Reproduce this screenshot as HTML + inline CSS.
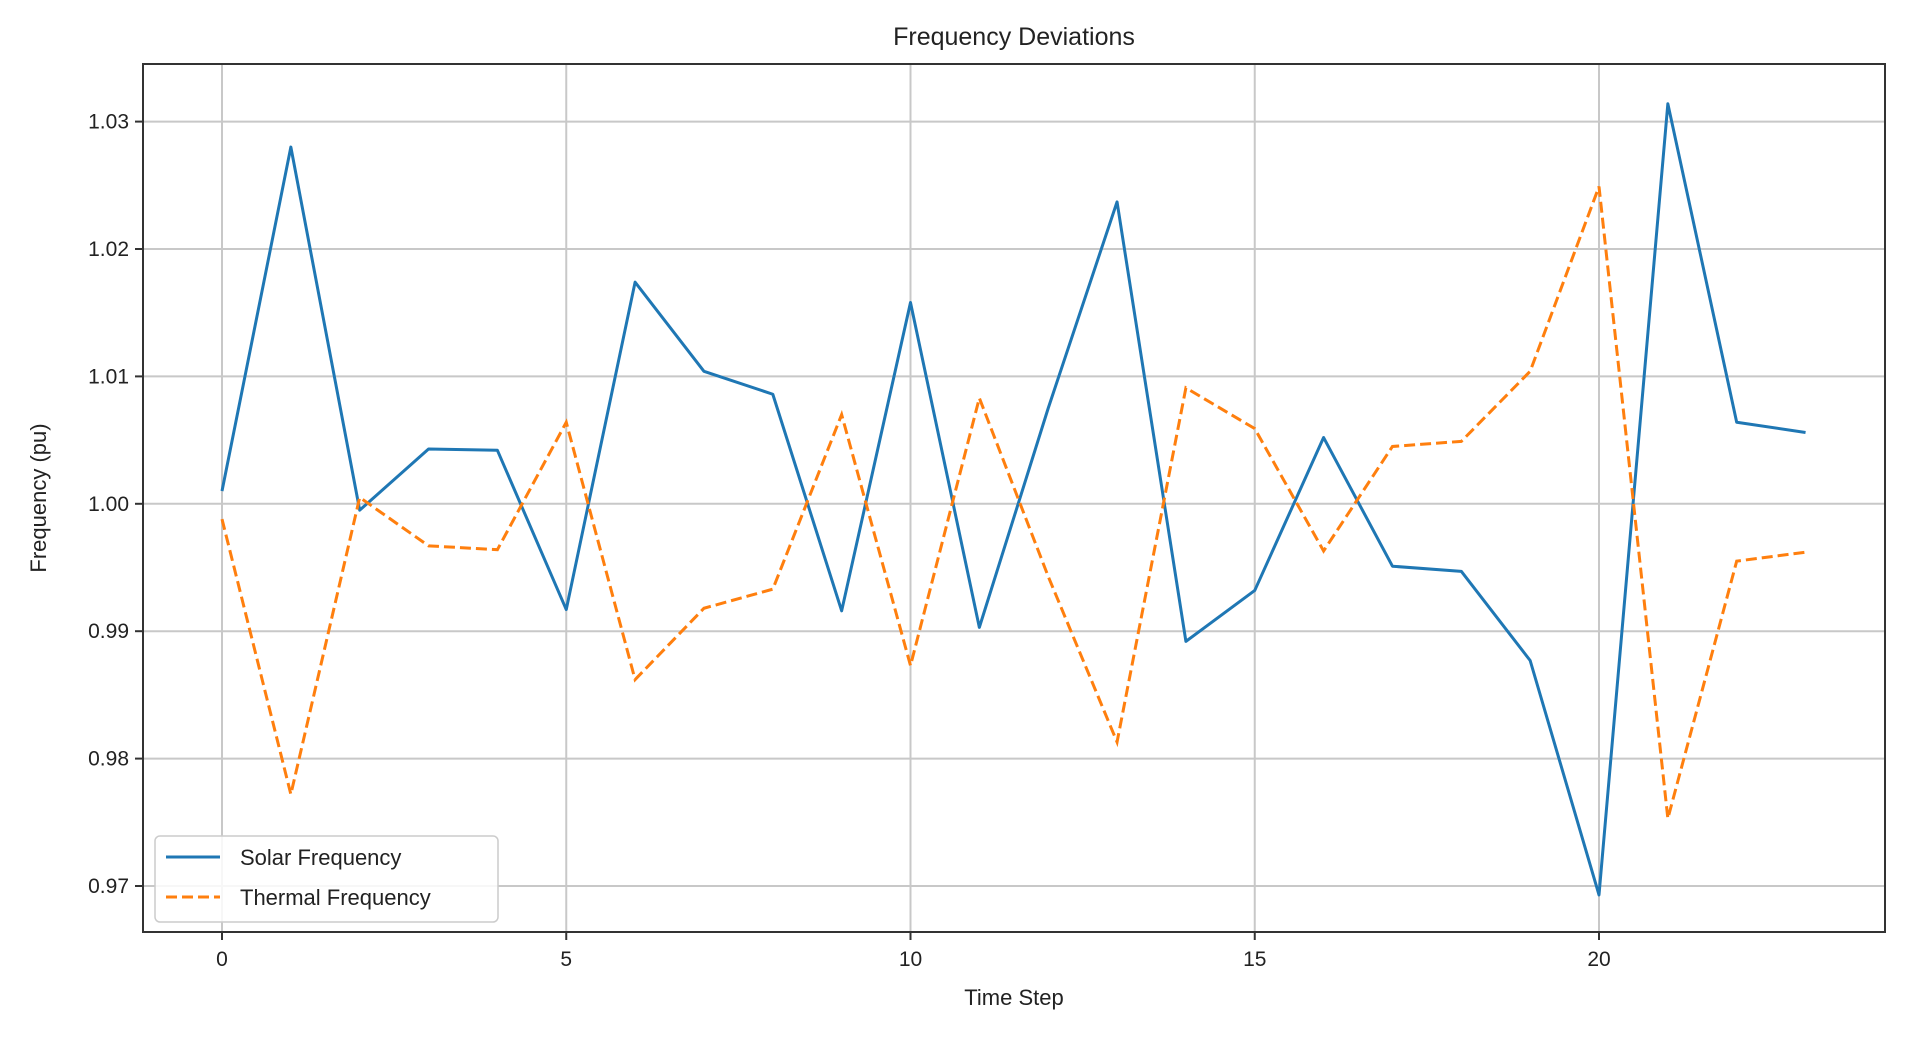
<!DOCTYPE html>
<html><head><meta charset="utf-8"><style>
html,body{margin:0;padding:0;background:#fff;}
svg{display:block;font-family:"Liberation Sans","DejaVu Sans",sans-serif;}
</style></head><body>
<svg id="chart" width="1917" height="1051"></svg>
<script>
const steps=[0,1,2,3,4,5,6,7,8,9,10,11,12,13,14,15,16,17,18,19,20,21,22,23];
const solar=[1.001,1.028,0.9995,1.0043,1.0042,0.9917,1.0174,1.0104,1.0086,0.9916,1.0158,0.9903,1.0075,1.0237,0.9892,0.9932,1.0052,0.9951,0.9947,0.9877,0.9693,1.0314,1.0064,1.0056];
const thermal=[0.9988,0.9772,1.0005,0.9967,0.9964,1.0064,0.9862,0.9918,0.9933,1.007,0.9873,1.0083,0.9943,0.9813,1.0091,1.0059,0.9963,1.0045,1.0049,1.0104,1.0249,0.9753,0.9955,0.9962];
const xTicks=[0,5,10,15,20];
const yTicks=[0.97,0.98,0.99,1.00,1.01,1.02,1.03];
const yTickLabels=["0.97","0.98","0.99","1.00","1.01","1.02","1.03"];

const NS="http://www.w3.org/2000/svg";
const svg=document.getElementById('chart');
const L=143,R=1885,T=64,B=932;
const x=v=>222+v*68.85;
const y=v=>886-(v-0.97)*12740;
function mk(tag,attrs,parent){const e=document.createElementNS(NS,tag);for(const k in attrs)e.setAttribute(k,attrs[k]);(parent||svg).appendChild(e);return e;}

xTicks.forEach(t=>{
  const g=mk('line',{x1:x(t),x2:x(t),y1:T,y2:B,stroke:'#c8c8c8','stroke-width':2});
  
  
  const tk=mk('line',{x1:x(t),x2:x(t),y1:B,y2:B+8,stroke:'#333','stroke-width':2});
  
  
  const lb=mk('text',{x:x(t),y:B+34,'text-anchor':'middle','font-size':21,fill:'#222'});
  lb.textContent=t;
  
  
});
yTicks.forEach((t,i)=>{
  const g=mk('line',{x1:L,x2:R,y1:y(t),y2:y(t),stroke:'#c8c8c8','stroke-width':2});
  
  
  const tk=mk('line',{x1:L-8,x2:L,y1:y(t),y2:y(t),stroke:'#333','stroke-width':2});
  
  
  const lb=mk('text',{x:L-14,y:y(t)+7,'text-anchor':'end','font-size':21,fill:'#222'});
  lb.textContent=yTickLabels[i];
  
  
});
const frame=mk('rect',{x:L,y:T,width:R-L,height:B-T,fill:'none',stroke:'#333','stroke-width':2});



const pts=arr=>arr.map((v,i)=>x(steps[i])+','+y(v)).join(' ');
const ls=mk('polyline',{points:pts(solar),fill:'none',stroke:'#1f77b4','stroke-width':3,'stroke-linejoin':'round'});


const lt=mk('polyline',{points:pts(thermal),fill:'none',stroke:'#ff7f0e','stroke-width':3,'stroke-dasharray':'11,5'});



const title=mk('text',{x:(L+R)/2,y:45,'text-anchor':'middle','font-size':25,fill:'#222'});
title.textContent='Frequency Deviations';


const xl=mk('text',{x:(L+R)/2,y:1005,'text-anchor':'middle','font-size':22,fill:'#222'});
xl.textContent='Time Step';


const yl=mk('text',{x:0,y:0,'text-anchor':'middle','font-size':22,fill:'#222',transform:'translate(46,'+((T+B)/2)+') rotate(-90)'});
yl.textContent='Frequency (pu)';



const leg=mk('g',{});


mk('rect',{x:155,y:836,width:343,height:86,rx:5,fill:'#fff','fill-opacity':0.85,stroke:'#ccc','stroke-width':1.5},leg);
const e1=mk('line',{x1:166,x2:220,y1:857,y2:857,stroke:'#1f77b4','stroke-width':3},leg);


const t1=mk('text',{x:240,y:865,'font-size':22,fill:'#222'},leg);
t1.textContent='Solar Frequency';


const e2=mk('line',{x1:166,x2:220,y1:897,y2:897,stroke:'#ff7f0e','stroke-width':3,'stroke-dasharray':'11,5'},leg);


const t2=mk('text',{x:240,y:905,'font-size':22,fill:'#222'},leg);
t2.textContent='Thermal Frequency';


</script>
</body></html>
